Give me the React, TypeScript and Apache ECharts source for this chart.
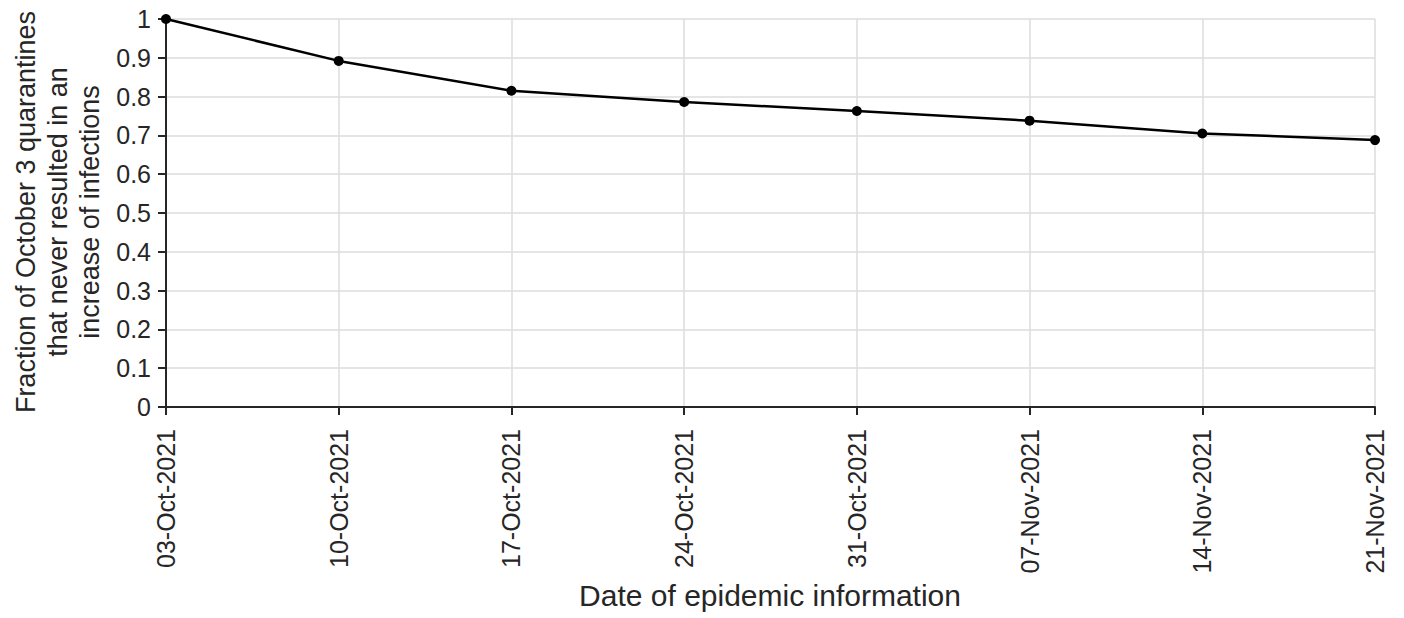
import React, { useEffect, useRef } from "react";
import * as echarts from "echarts";

const categories = ["03-Oct-2021", "10-Oct-2021", "17-Oct-2021", "24-Oct-2021", "31-Oct-2021", "07-Nov-2021", "14-Nov-2021", "21-Nov-2021"];
const fractions = [1.0, 0.892, 0.815, 0.786, 0.763, 0.738, 0.705, 0.688];
const yTitleLines = ["Fraction of October 3 quarantines", "that never resulted in an", "increase of infections"];
const xTitle = "Date of epidemic information";

const FONT = "'Liberation Sans', Arial, Helvetica, sans-serif";
const TXT = "#262626";

export default function App() {
  const ref = useRef<HTMLDivElement>(null);
  useEffect(() => {
    const chart = echarts.init(ref.current!, null, { renderer: "svg" });
    chart.setOption({
      animation: false,
      backgroundColor: "#ffffff",
      textStyle: { fontFamily: FONT },
      grid: { left: 166, right: 29, top: 19, bottom: 211 },
      xAxis: {
        type: "category",
        data: categories,
        boundaryGap: false,
        axisLine: { show: true, lineStyle: { color: TXT, width: 2 } },
        axisTick: { show: true, alignWithLabel: true, length: 8, lineStyle: { color: TXT, width: 2 } },
        axisLabel: { rotate: 90, margin: 22, fontSize: 25, color: TXT, fontFamily: FONT },
        splitLine: { show: true, lineStyle: { color: "#dcdcdc", width: 1.5 } },
      },
      yAxis: {
        type: "value",
        min: 0,
        max: 1,
        interval: 0.1,
        axisLine: { show: true, lineStyle: { color: TXT, width: 2 } },
        axisTick: { show: true, length: 8, lineStyle: { color: TXT, width: 2 } },
        axisLabel: {
          margin: 15,
          fontSize: 25,
          color: TXT,
          fontFamily: FONT,
          formatter: (v: number) => (Math.round(v * 10) / 10).toString(),
        },
        splitLine: { show: true, lineStyle: { color: "#dcdcdc", width: 1.5 } },
      },
      graphic: [
        {
          type: "text",
          x: 58,
          y: 212,
          rotation: Math.PI / 2,
          style: {
            text: yTitleLines.join("\n"),
            font: `27px ${FONT}`,
            fill: TXT,
            align: "center",
            verticalAlign: "middle",
            lineHeight: 32,
          },
        },
        {
          type: "text",
          x: 770,
          y: 595,
          style: {
            text: xTitle,
            font: `30px ${FONT}`,
            fill: TXT,
            align: "center",
            verticalAlign: "middle",
          },
        },
      ],
      series: [
        {
          type: "line",
          data: fractions,
          symbol: "circle",
          symbolSize: 10,
          lineStyle: { color: "#000000", width: 2.5 },
          itemStyle: { color: "#000000" },
        },
      ],
    });
    return () => chart.dispose();
  }, []);
  return <div ref={ref} style={{ width: 1404, height: 618, position: "absolute", left: 0, top: 0 }} />;
}
